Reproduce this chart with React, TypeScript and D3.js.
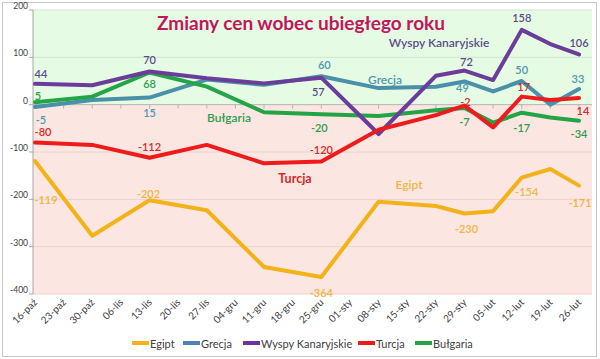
import React from 'react';
import * as d3 from 'd3';

// weekly dates (x axis)
const categories = [
  '16-paź', '23-paź', '30-paź', '06-lis', '13-lis', '20-lis', '27-lis', '04-gru',
  '11-gru', '18-gru', '25-gru', '01-sty', '08-sty', '15-sty', '22-sty', '29-sty',
  '05-lut', '12-lut', '19-lut', '26-lut',
];

// price change vs previous year, null = no reading that week
const egipt = [-119, null, -277, null, -202, null, -223, null, -343, null, -364, null, -205, null, -214, -230, -225, -154, -136, -171];
const grecja = [-5, null, 10, null, 15, null, 53, null, 42, null, 60, null, 35, null, 38, 49, 28, 50, 0, 33];
const wyspy = [44, null, 41, null, 70, null, 56, null, 45, null, 57, null, -62, null, 61, 72, 52, 158, 128, 106];
const turcja = [-80, null, -85, null, -112, null, -85, null, -124, null, -120, null, -53, null, -22, -2, -48, 17, 10, 14];
const bulgaria = [5, null, 17, null, 68, null, 38, null, -16, null, -20, null, -24, null, -12, -7, -38, -17, -27, -34];

const yTicks = [200, 100, 0, -100, -200, -300, -400];
const labelledIdx = [0, 4, 10, 15, 17, 19];

const seriesNames = ['Egipt', 'Grecja', 'Wyspy Kanaryjskie', 'Turcja', 'Bułgaria'];

type Series = {
  name: string;
  values: (number | null)[];
  color: string;
  legendColor: string;
  textColor: string;
  // label offsets from the point (center of text)
  offs: [number, number][];
  tag: { x: number; y: number; bold?: boolean };
};

const series: Series[] = [
  {
    name: seriesNames[0], values: egipt, color: '#f3b21a', legendColor: '#f3b21a', textColor: '#f0b545',
    offs: [[11, 39], [-1, -7], [0, 16], [2, 15], [5, 14], [1, 17]],
    tag: { x: 409, y: 184 },
  },
  {
    name: seriesNames[1], values: grecja, color: '#4a90a9', legendColor: '#4f81bd', textColor: '#4f97b0',
    offs: [[6, 12], [0, 15], [3, -12], [-2, 6], [0, -12], [-1, -11]],
    tag: { x: 385, y: 79 },
  },
  {
    name: seriesNames[2], values: wyspy, color: '#6b3d9a', legendColor: '#7030a0', textColor: '#5d4c8c',
    offs: [[6, -10], [0, -12], [-3, 14], [2, -9], [0, -12], [0, -12]],
    tag: { x: 439, y: 42 },
  },
  {
    name: seriesNames[3], values: turcja, color: '#ee1b1b', legendColor: '#ee1b1b', textColor: '#d52a2a',
    offs: [[8, -11], [0, -11], [0, -12], [1, -4], [2, -10], [4, 12]],
    tag: { x: 295, y: 178, bold: true },
  },
  {
    name: seriesNames[4], values: bulgaria, color: '#23a547', legendColor: '#23a547', textColor: '#2d9d4d',
    offs: [[3, -7], [0, 11], [-2, 13], [0, 14], [0, 15], [0, 13]],
    tag: { x: 229, y: 117 },
  },
];

// draw order (back to front)
const drawOrder = [0, 1, 4, 2, 3];

const W = 600;
const H = 359;
const font = 'Lato, "Open Sans", sans-serif';

export default function App() {
  const x = d3.scalePoint<string>().domain(categories).range([35, 579]);
  const y = d3.scaleLinear().domain([-400, 200]).range([294, 10]);
  const plotL = 33;
  const plotR = 592;

  const line = d3
    .line<{ i: number; v: number }>()
    .x((d) => x(categories[d.i]) as number)
    .y((d) => y(d.v));

  const pts = (vals: (number | null)[]) =>
    vals.map((v, i) => ({ i, v })).filter((d) => d.v !== null) as { i: number; v: number }[];

  const legendX = [132, 183, 243, 358, 415];

  return (
    <svg width={W} height={H} style={{ position: 'absolute', left: 0, top: 0 }} fontFamily={font}>
      <rect x={0} y={0} width={W} height={H} fill="#fff" />
      <rect x={2.5} y={2.5} width={594} height={354} fill="#fff" stroke="#c8c8c8" />

      {/* plot background */}
      <rect x={plotL} y={y(200)} width={plotR - plotL} height={y(0) - y(200)} fill="#e5fbe3" />
      <rect x={plotL} y={y(0)} width={plotR - plotL} height={y(-400) - y(0)} fill="#fce6e1" />

      {yTicks.map((t) => (
        <g key={t}>
          {t !== 0 && (
            <line x1={plotL} x2={plotR} y1={y(t)} y2={y(t)} stroke={t > 0 ? '#cfe6cc' : '#ecd2cc'} strokeWidth={1} />
          )}
          <line x1={plotL - 4} x2={plotL} y1={y(t)} y2={y(t)} stroke="#a6a6a6" />
          <text x={plotL - 5} y={y(t)} dy="-0.1em" textAnchor="end" fontSize={8.5} fill="#404040">
            {t}
          </text>
        </g>
      ))}
      <line x1={plotL} x2={plotL} y1={y(200)} y2={y(-400)} stroke="#a6a6a6" />
      <line x1={plotL} x2={plotR} y1={y(0)} y2={y(0)} stroke="#b4b4b4" />
      {categories.map((c) => (
        <line key={c} x1={x(c)} x2={x(c)} y1={y(0)} y2={y(0) + 4} stroke="#b4b4b4" />
      ))}

      {/* x labels */}
      {categories.map((c) => (
        <text
          key={c}
          transform={`translate(${(x(c) as number) + 3},${y(-400) + 9}) rotate(-45)`}
          textAnchor="end"
          fontSize={10}
          fill="#404040"
        >
          {c}
        </text>
      ))}

      {/* title */}
      <text x={157} y={30} fontSize={19} fontWeight="bold" fill="#c0175d">
        Zmiany cen wobec ubiegłego roku
      </text>

      {/* lines */}
      {drawOrder.map((k) => {
        const s = series[k];
        return (
          <path
            key={s.name}
            d={line(pts(s.values)) || ''}
            fill="none"
            stroke={s.color}
            strokeWidth={4}
            strokeLinejoin="round"
            strokeLinecap="round"
          />
        );
      })}

      {/* series name tags */}
      {series.map((s) => (
        <text
          key={s.name}
          x={s.tag.x}
          y={s.tag.y}
          textAnchor="middle"
          dominantBaseline="central"
          fontSize={s.tag.bold ? 12.5 : 12}
          fontWeight={s.tag.bold ? 'bold' : 600}
          fill={s.textColor}
        >
          {s.name}
        </text>
      ))}

      {/* data labels */}
      {series.map((s) =>
        labelledIdx.map((i, j) => {
          const v = s.values[i] as number;
          return (
            <text
              key={s.name + i}
              x={(x(categories[i]) as number) + s.offs[j][0]}
              y={y(v) + s.offs[j][1]}
              textAnchor="middle"
              dominantBaseline="central"
              fontSize={11}
              fontWeight={600}
              fill={s.textColor}
            >
              {v}
            </text>
          );
        })
      )}

      {/* legend */}
      {series.map((s, k) => (
        <g key={s.name} transform={`translate(${legendX[k]},343)`}>
          <line x1={0} x2={17} y1={0} y2={0} stroke={s.legendColor} strokeWidth={4} />
          <text x={18} y={0} dominantBaseline="central" fontSize={11} fill="#404040">
            {s.name}
          </text>
        </g>
      ))}
    </svg>
  );
}
